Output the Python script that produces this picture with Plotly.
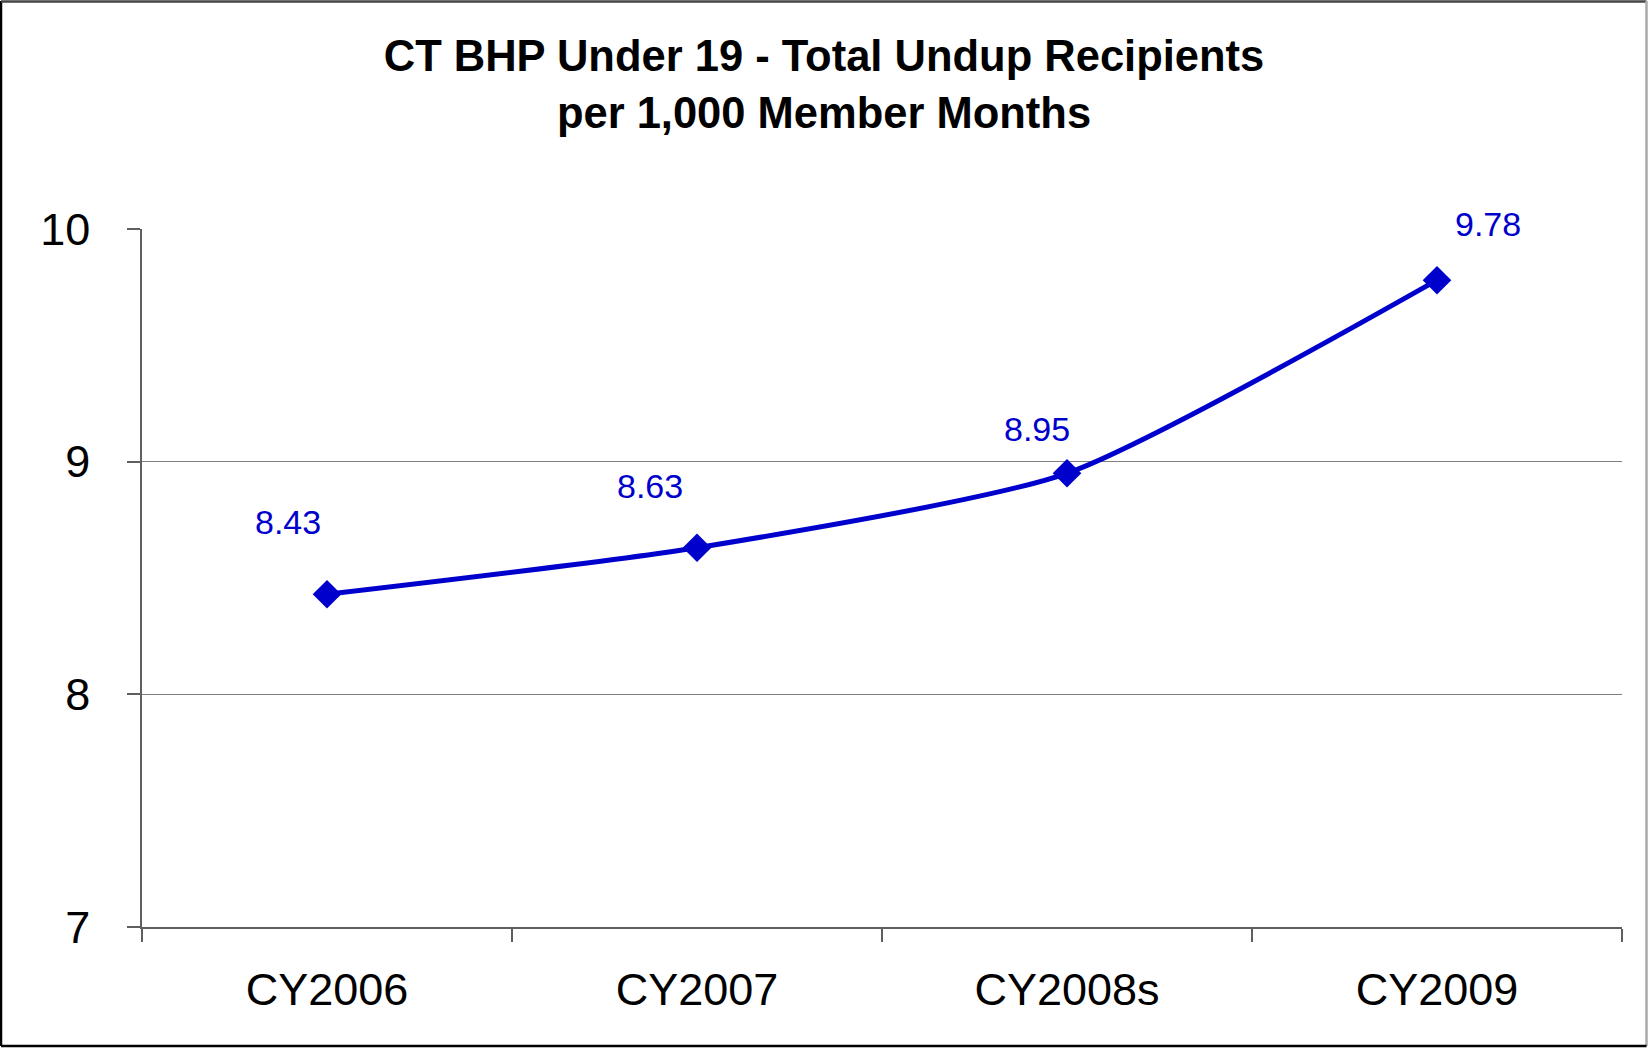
import plotly.graph_objects as go

categories = ["CY2006", "CY2007", "CY2008s", "CY2009"]
values = [8.43, 8.63, 8.95, 9.78]
value_labels = ["8.43", "8.63", "8.95", "9.78"]
y_ticks = [7, 8, 9, 10]

# label offsets in pixels (styling, not data)
label_dx = [-39, -47, -30, 51]
label_dy = [72, 62, 44, 56]

BLUE = "#0000CC"
FONT = "Liberation Sans, Arial, sans-serif"

fig = go.Figure()
fig.add_trace(go.Scatter(
    x=categories, y=values, mode="lines+markers",
    line=dict(color=BLUE, width=5, shape="spline", smoothing=0.6),
    marker=dict(symbol="diamond", size=22, color=BLUE),
    showlegend=False, hoverinfo="skip",
))

for c, v, t, dx, dy in zip(categories, values, value_labels, label_dx, label_dy):
    fig.add_annotation(x=c, y=v, text=t, showarrow=False, xshift=dx, yshift=dy,
                       font=dict(family=FONT, size=34, color=BLUE))

# chart border
px = lambda p: (p - 142) / 1480
py = lambda p: (927 - p) / 698
border = [
    (px(1), py(1), px(1), py(1046), "#000000"),
    (px(1), py(1.5), px(1646.5), py(1.5), "#444444"),
    (px(1646.5), py(1), px(1646.5), py(1046), "#AAAAAA"),
    (px(1), py(1046), px(1646.5), py(1046), "#000000"),
]
for x0, y0, x1, y1, col in border:
    fig.add_shape(type="line", xref="paper", yref="paper", x0=x0, y0=y0, x1=x1, y1=y1,
                  line=dict(color=col, width=2.5))

fig.update_layout(
    width=1648, height=1050,
    margin=dict(l=142, r=26, t=229, b=123),
    paper_bgcolor="white", plot_bgcolor="white",
    title=dict(text="<b>CT BHP Under 19 - Total Undup Recipients<br>per 1,000 Member Months</b>",
               x=0.5, xanchor="center", y=1 - 71 / 1050, yanchor="middle", yref="container",
               font=dict(family=FONT, size=43.5, color="black")),
    xaxis=dict(type="category", tickson="boundaries", ticks="outside", ticklen=13,
               tickcolor="#5f5f5f", tickwidth=1.5, showline=True, linecolor="#5f5f5f", linewidth=1.5,
               showgrid=False, tickfont=dict(family=FONT, size=45, color="black"),
               ticklabelstandoff=22, range=[-0.5, 3.5]),
    yaxis=dict(range=[7, 10], tickvals=y_ticks, ticktext=[str(v) for v in y_ticks],
               ticks="outside", ticklen=13, tickcolor="#5f5f5f", tickwidth=1.5,
               showline=True, linecolor="#5f5f5f", linewidth=1.5,
               showgrid=True, gridcolor="#808080", gridwidth=1.2, zeroline=False,
               tickfont=dict(family=FONT, size=45, color="black"), ticklabelstandoff=28),
)

fig.write_html("out.html", config={"displayModeBar": False},
               post_script="document.body.style.margin='0px';")
